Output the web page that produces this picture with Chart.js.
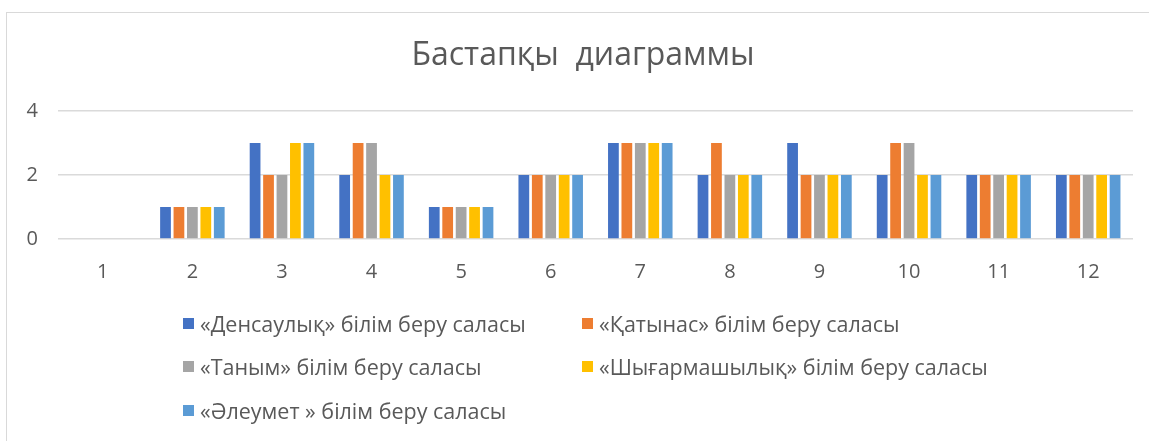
<!DOCTYPE html>
<html>
<head>
<meta charset="utf-8">
<script src="https://cdn.jsdelivr.net/npm/chart.js@4.4.1/dist/chart.umd.min.js"></script>
<style>
  html, body { margin: 0; padding: 0; background: #fff; }
  #wrap { position: relative; width: 1149px; height: 441px; overflow: hidden; }
  #frame { position: absolute; left: 6px; top: 12px; width: 1200px; height: 500px; border: 1px solid #d9d9d9; box-sizing: border-box; }
  canvas { position: absolute; left: 0; top: 0; }
  #title { position: absolute; left: 0; width: 1166px; top: 34px; text-align: center; font-family: "Open Sans", sans-serif; font-size: 32px; line-height: 1.2; color: #595959; white-space: pre; }
  #legend { position: absolute; left: 183px; top: 311px; font-family: "Open Sans", sans-serif; font-size: 21.5px; color: #595959; }
  .item { position: absolute; white-space: nowrap; display: flex; align-items: center; height: 24px; }
  .box { width: 11px; height: 11px; margin-right: 6px; }
</style>
</head>
<body>
<div id="wrap">
  <div id="frame"></div>
  <canvas id="chart" width="1149" height="441"></canvas>
  <div id="title"></div>
  <div id="legend"></div>
</div>
<script>
const chartTitle = "Бастапқы  диаграммы";
const categories = ["1", "2", "3", "4", "5", "6", "7", "8", "9", "10", "11", "12"];
const seriesNames = [
  "«Денсаулық» білім беру саласы",
  "«Қатынас» білім беру саласы",
  "«Таным» білім беру саласы",
  "«Шығармашылық» білім беру саласы",
  "«Әлеумет » білім беру саласы"
];
const densaulyk = [0, 1, 3, 2, 1, 2, 3, 2, 3, 2, 2, 2];
const katynas = [0, 1, 2, 3, 1, 2, 3, 3, 2, 3, 2, 2];
const tanym = [0, 1, 2, 3, 1, 2, 3, 2, 2, 3, 2, 2];
const shygarmashylyk = [0, 1, 3, 2, 1, 2, 3, 2, 2, 2, 2, 2];
const aleumet = [0, 1, 3, 2, 1, 2, 3, 2, 2, 2, 2, 2];
const yTicks = [0, 2, 4];

const colors = ["#4472C4", "#ED7D31", "#A5A5A5", "#FFC000", "#5B9BD5"];
const values = [densaulyk, katynas, tanym, shygarmashylyk, aleumet];

document.getElementById("title").textContent = chartTitle;

const chart = new Chart(document.getElementById("chart"), {
  type: "bar",
  data: {
    labels: categories,
    datasets: values.map((v, i) => ({
      label: seriesNames[i],
      data: v,
      backgroundColor: colors[i],
      categoryPercentage: 0.75,
      barPercentage: 0.8
    }))
  },
  options: {
    responsive: false,
    animation: false,
    layout: { padding: { left: 8, right: 16, top: 111, bottom: 144 } },
    plugins: {
      legend: { display: false },
      tooltip: { enabled: false },
      title: { display: false }
    },
    scales: {
      x: {
        grid: { display: false },
        border: { display: false },
        ticks: { color: "#595959", font: { family: "Open Sans", size: 20 }, padding: 13 }
      },
      y: {
        min: 0,
        max: 4,
        afterFit: (s) => { s.width = 50; },
        afterBuildTicks: (s) => { s.ticks = yTicks.map((v) => ({ value: v })); },
        grid: { color: "#dadada", lineWidth: 1.6, drawTicks: false },
        border: { display: false },
        ticks: { color: "#595959", font: { family: "Open Sans", size: 20 }, padding: 20 }
      }
    }
  }
});

// legend in two columns, as in the source
const legend = document.getElementById("legend");
chart.data.datasets.forEach((ds, i) => {
  const item = document.createElement("div");
  item.className = "item";
  item.style.left = (i % 2 ? 399 : 0) + "px";
  item.style.top = Math.floor(i / 2) * 43.5 + "px";
  item.innerHTML = '<span class="box" style="background:' + ds.backgroundColor + '"></span>' + ds.label;
  legend.appendChild(item);
});
</script>
</body>
</html>
